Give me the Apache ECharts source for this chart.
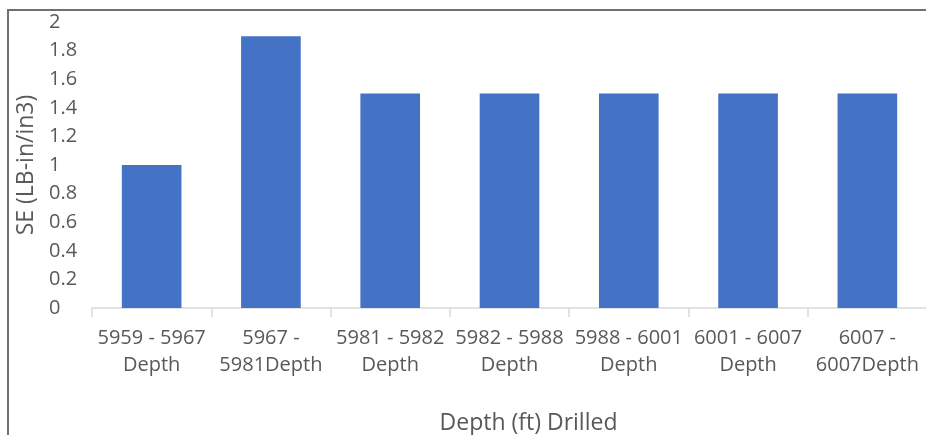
<!DOCTYPE html>
<html>
<head>
<meta charset="utf-8">
<script src="https://cdn.jsdelivr.net/npm/echarts@6/dist/echarts.min.js"></script>
<style>
  html, body { margin: 0; padding: 0; background: #fff; }
  #chart { width: 926px; height: 435px; }
</style>
</head>
<body>
<div id="chart"></div>
<script>
// Depth intervals drilled (wrapped as two-line axis labels)
const categories = [
  '5959 - 5967\nDepth',
  '5967 -\n5981Depth',
  '5981 - 5982\nDepth',
  '5982 - 5988\nDepth',
  '5988 - 6001\nDepth',
  '6001 - 6007\nDepth',
  '6007 -\n6007Depth'
];
// Specific energy per interval
const seValues = [1.0, 1.9, 1.5, 1.5, 1.5, 1.5, 1.5];
// Y-axis ticks
const yTicks = { min: 0, max: 2, interval: 0.2 };

const FONT = 'Open Sans';
const TEXT = '#595959';

const chart = echarts.init(document.getElementById('chart'));
chart.setOption({
  animation: false,
  backgroundColor: '#ffffff',
  graphic: [{
    type: 'rect',
    shape: { x: 8, y: 10, width: 940, height: 460 },
    style: { fill: 'none', stroke: '#707070', lineWidth: 2 },
    silent: true,
    z: -1
  }],
  grid: { left: 92, right: -1, top: 22, bottom: 127, outerBoundsMode: 'none', containLabel: false },
  xAxis: {
    type: 'category',
    data: categories,
    name: 'Depth (ft) Drilled',
    nameLocation: 'middle',
    nameGap: 104,
    nameTextStyle: { fontFamily: FONT, fontSize: 23, color: TEXT, padding: [0, 0, 0, 38] },
    axisLine: { lineStyle: { color: '#D9D9D9', width: 1.5 } },
    axisTick: { show: true, length: 9, lineStyle: { color: '#D9D9D9', width: 1.5 } },
    axisLabel: {
      interval: 0,
      fontFamily: FONT, fontSize: 20, color: TEXT,
      lineHeight: 27, margin: 17
    }
  },
  yAxis: {
    type: 'value',
    min: yTicks.min, max: yTicks.max, interval: yTicks.interval,
    name: 'SE (LB-in/in3)',
    nameLocation: 'middle',
    nameGap: 52,
    nameTextStyle: { fontFamily: FONT, fontSize: 23, color: TEXT },
    axisLine: { show: false },
    axisTick: { show: false },
    splitLine: { show: false },
    axisLabel: {
      fontFamily: FONT, fontSize: 20, color: TEXT,
      align: 'left', margin: 43,
      formatter: v => String(Math.round(v * 10) / 10)
    }
  },
  series: [{
    type: 'bar',
    data: seValues,
    barWidth: '50%',
    itemStyle: { color: '#4472C4' }
  }]
});
</script>
</body>
</html>
